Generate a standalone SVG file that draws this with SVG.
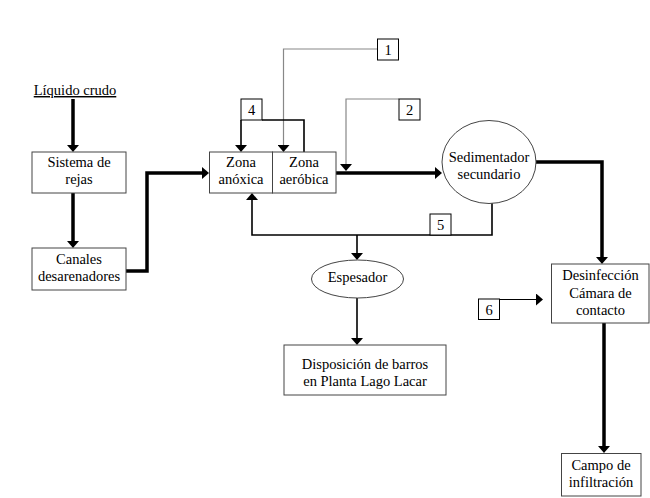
<svg xmlns="http://www.w3.org/2000/svg" width="650" height="498" viewBox="0 0 650 498">
<style>
text{font-family:'Liberation Serif','Times New Roman',serif;font-size:14.5px;fill:#000;text-anchor:middle}
.box{fill:#fff;stroke:#444;stroke-width:1}
.num{fill:#fff;stroke:#000;stroke-width:1}
.thick{fill:none;stroke:#000;stroke-width:3.5}
.med{fill:none;stroke:#000;stroke-width:1.6}
.gray{fill:none;stroke:#888;stroke-width:1.2}
.thin{fill:none;stroke:#000;stroke-width:1.2}
</style>
<defs>
<marker id="ah" markerUnits="userSpaceOnUse" markerWidth="7" markerHeight="12" refX="2" refY="6" orient="auto" viewBox="0 0 7 12">
<path d="M0,0 L7,6 L0,12 z" fill="#000"/>
</marker>
</defs>
<rect width="650" height="498" fill="#fff"/>
<g id="connectors">
<path class="thick" d="M73,99 V147" marker-end="url(#ah)"/>
<path class="thick" d="M73,193 V243" marker-end="url(#ah)"/>
<path class="thick" d="M126,271 H147 V173 H204" marker-end="url(#ah)"/>
<path class="thick" d="M336,173 H437" marker-end="url(#ah)"/>
<path class="thick" d="M536,162 H602 V259" marker-end="url(#ah)"/>
<path class="thick" d="M604,323 V448" marker-end="url(#ah)"/>
<path class="gray" d="M377,49 H283.5 V147" marker-end="url(#ah)"/>
<path class="gray" d="M399,99 H346 V166" marker-end="url(#ah)"/>
<path class="med" d="M241,120 V147" marker-end="url(#ah)"/>
<path class="med" d="M262,120 H304 V152"/>
<path class="med" d="M492,203 V235 H252 V198" marker-end="url(#ah)"/>
<path class="med" d="M357,235 V255" marker-end="url(#ah)"/>
<path class="med" d="M357,298 V340" marker-end="url(#ah)"/>
<path class="thin" d="M499,299.5 H538" marker-end="url(#ah)"/>
</g>
<g id="liquido"><text x="75" y="95" text-decoration="underline">Líquido crudo</text></g>
<g id="rejas"><rect class="box" x="32" y="152" width="94" height="41"/><text x="79" y="167">Sistema de</text><text x="79" y="184">rejas</text></g>
<g id="canales"><rect class="box" x="32" y="248" width="94" height="42"/><text x="79" y="264">Canales</text><text x="79" y="281">desarenadores</text></g>
<g id="anoxica"><rect class="box" x="209.5" y="152" width="63" height="41"/><text x="241" y="167">Zona</text><text x="241" y="184">anóxica</text></g>
<g id="aerobica"><rect class="box" x="272.5" y="152" width="63.5" height="41"/><text x="304" y="167">Zona</text><text x="304" y="184">aeróbica</text></g>
<g id="sedimentador"><ellipse class="box" cx="489" cy="162" rx="47" ry="41.5"/><text x="489" y="162">Sedimentador</text><text x="489" y="179">secundario</text></g>
<g id="espesador"><ellipse class="box" cx="357.5" cy="279" rx="46" ry="19"/><text x="357.5" y="282">Espesador</text></g>
<g id="disposicion"><rect class="box" x="284" y="345" width="162" height="50"/><text x="365" y="368.5">Disposición de barros</text><text x="365" y="385.5">en Planta Lago Lacar</text></g>
<g id="desinfeccion"><rect class="box" x="551.5" y="264" width="97.5" height="59"/><text x="600.5" y="279.5">Desinfección</text><text x="600.5" y="297.5">Cámara de</text><text x="600.5" y="314.5">contacto</text></g>
<g id="campo"><rect class="box" x="561.5" y="453.5" width="79.5" height="42.5"/><text x="601" y="470">Campo de</text><text x="601" y="487">infiltración</text></g>
<g id="n1"><rect class="num" x="377.5" y="39" width="21" height="21"/><text x="388" y="55">1</text></g>
<g id="n2"><rect class="num" x="399" y="99" width="21" height="21"/><text x="409.5" y="115">2</text></g>
<g id="n4"><rect class="num" x="241" y="99" width="21" height="21"/><text x="251.5" y="115">4</text></g>
<g id="n5"><rect class="num" x="430" y="214" width="21" height="21"/><text x="440.5" y="230">5</text></g>
<g id="n6"><rect class="num" x="478.5" y="299" width="21" height="20.5"/><text x="489" y="315">6</text></g>
</svg>
